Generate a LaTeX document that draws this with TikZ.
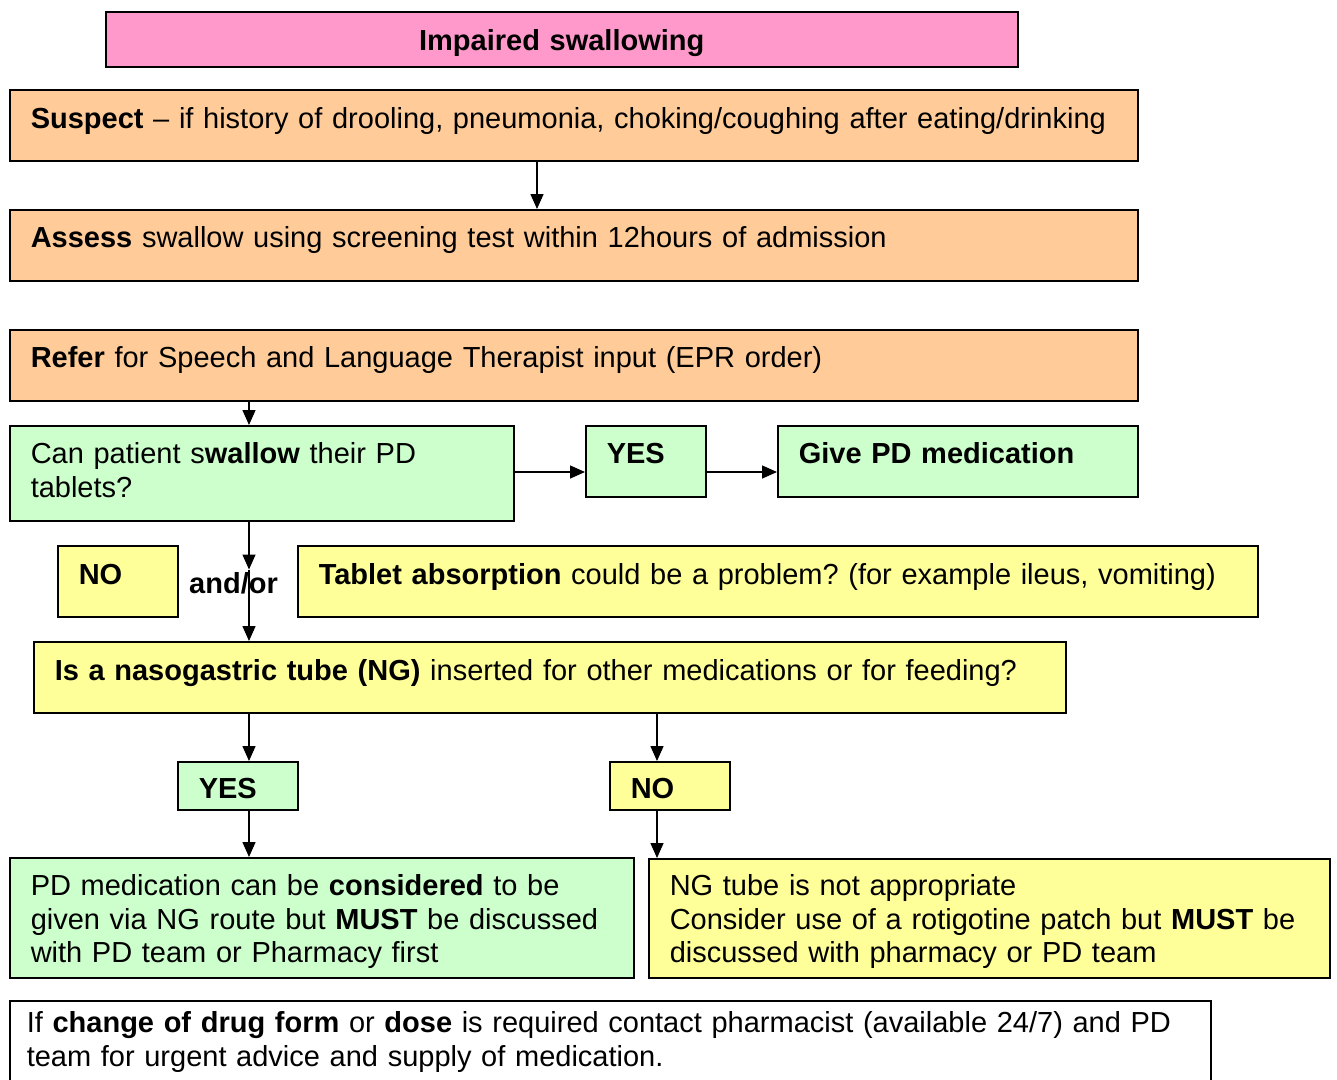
\documentclass[tikz,border=0pt]{standalone}
\usepackage{fontspec}
\setmainfont{Liberation Sans}
\usetikzlibrary{arrows.meta,calc}
\frenchspacing

\definecolor{titlepink}{HTML}{FF99CC}
\definecolor{stepochre}{HTML}{FFCC99}
\definecolor{yesgreen}{HTML}{CCFFCC}
\definecolor{queryyellow}{HTML}{FFFF99}

\begin{document}
\begin{tikzpicture}[
  x=1pt, y=-1pt,
  font=\fontsize{29pt}{33.5pt}\selectfont,
  >={Triangle[length=15pt,width=13pt]},
  box/.style={draw, line width=1.5pt, anchor=north west, inner xsep=21pt, inner ysep=0pt, align=left},
  pinkbox/.style={box, fill=titlepink, align=center},
  orangebox/.style={box, fill=stepochre},
  greenbox/.style={box, fill=yesgreen},
  yellowbox/.style={box, fill=queryyellow},
  plainbox/.style={box, fill=white, inner xsep=17pt},
  arr/.style={->, line width=1.4pt},
  note/.style={font=\fontsize{29pt}{33.5pt}\selectfont\bfseries}
]
\useasboundingbox (0,0) rectangle (1337,1079);

\node[pinkbox, text width=870pt, text height=39pt, text depth=16pt] (title) at (105,11) {\textbf{Impaired swallowing}};
\node[orangebox, text width=1086pt, text height=39pt, text depth=32pt] (suspect) at (9,89)
  {\textbf{Suspect} – if history of drooling, pneumonia, choking/coughing after eating/drinking};
\node[orangebox, text width=1086pt, text height=38pt, text depth=33pt] (assess) at (9,209)
  {\textbf{Assess} swallow using screening test within 12hours of admission};
\node[orangebox, text width=1086pt, text height=38pt, text depth=33pt] (refer) at (9,329)
  {\textbf{Refer} for Speech and Language Therapist input (EPR order)};

\node[greenbox, text width=462pt, text height=38pt, text depth=57pt] (swallow) at (9,425)
  {Can patient s\textbf{wallow} their PD\\tablets?};
\node[greenbox, text width=78pt, text height=38pt, text depth=33pt] (yes1) at (585,425) {\textbf{YES}};
\node[greenbox, text width=318pt, text height=38pt, text depth=33pt] (give) at (777,425) {\textbf{Give PD medication}};

\node[yellowbox, text width=78pt, text height=39pt, text depth=32pt] (no1) at (57,545) {\textbf{NO}};
\node[yellowbox, text width=918pt, text height=39pt, text depth=32pt] (tablet) at (297,545)
  {\textbf{Tablet absorption} could be a problem? (for example ileus, vomiting)};
\node[yellowbox, text width=990pt, text height=39pt, text depth=32pt] (ngq) at (33,641)
  {\textbf{Is a nasogastric tube (NG)} inserted for other medications or for feeding?};

\node[greenbox, text width=78pt, text height=37pt, text depth=11pt] (yes2) at (177,761) {\textbf{YES}};
\node[yellowbox, text width=78pt, text height=37pt, text depth=11pt] (no2) at (609,761) {\textbf{NO}};

\node[greenbox, text width=582pt, text height=38pt, text depth=82pt] (viang) at (9,857)
  {PD medication can be \textbf{considered} to be\\given via NG route but \textbf{MUST} be discussed\\with PD team or Pharmacy first};
\node[yellowbox, text width=639pt, text height=37pt, text depth=82pt] (patch) at (648,858)
  {NG tube is not appropriate\\Consider use of a rotigotine patch but \textbf{MUST} be\\discussed with pharmacy or PD team};

\node[plainbox, text width=1167pt, text height=32pt, text depth=68pt] (advice) at (9,1000)
  {If \textbf{change of drug form} or \textbf{dose} is required contact pharmacist (available 24/7) and PD\\team for urgent advice and supply of medication.};

\draw[arr] ([xshift=528pt]suspect.south west) -- ([xshift=528pt]assess.north west);
\draw[arr] ([xshift=240pt]refer.south west) -- ([xshift=240pt]swallow.north west);
\draw[arr] ([yshift=-47pt]swallow.north east) -- ([yshift=-47pt]yes1.north west);
\draw[arr] ([yshift=-47pt]yes1.north east) -- ([yshift=-47pt]give.north west);

\coordinate (split) at ($(swallow.south west)+(240,48)$);
\draw[arr] ([xshift=240pt]swallow.south west) -- (split);
\draw[arr] (split) -- (split |- ngq.north);
\node[note, anchor=base west, inner sep=0pt] (andor) at (189,593) {and/or};

\draw[arr] ([xshift=216pt]ngq.south west) -- ([xshift=72pt]yes2.north west);
\draw[arr] ([xshift=624pt]ngq.south west) -- ([xshift=48pt]no2.north west);
\draw[arr] ([xshift=72pt]yes2.south west) -- ([xshift=240pt]viang.north west);
\draw[arr] ([xshift=48pt]no2.south west) -- ([xshift=9pt]patch.north west);

\end{tikzpicture}
\end{document}
